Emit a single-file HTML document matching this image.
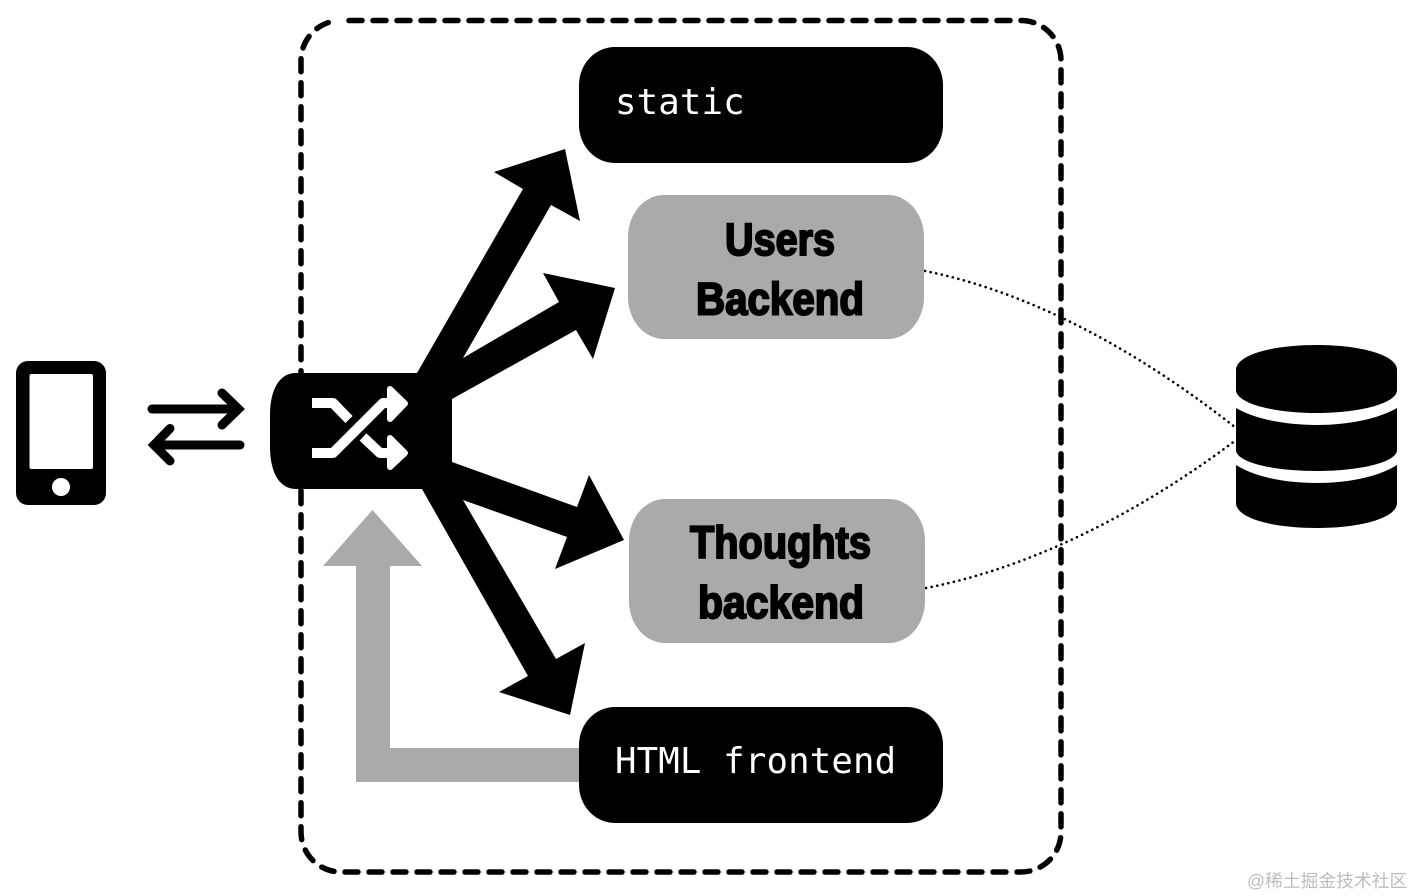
<!DOCTYPE html>
<html lang="zh">
<head>
<meta charset="utf-8">
<title>Diagram</title>
<style>
html,body{margin:0;padding:0;background:#fff;width:1414px;height:896px;overflow:hidden}
svg{display:block}
.mono{font-family:"DejaVu Sans Mono","Liberation Mono",monospace;font-size:35.7px;letter-spacing:.15px;fill:#fff}
.bold{font-family:"Liberation Sans",sans-serif;font-weight:bold;font-size:45px;fill:#000;stroke:#000;stroke-width:2px}
.wm{font-family:"Liberation Sans","Noto Sans CJK SC",sans-serif;font-size:17.800px;fill:#bdbdbd}
</style>
</head>
<body>
<svg width="1414" height="896" viewBox="0 0 1414 896" xmlns="http://www.w3.org/2000/svg">
  <rect width="1414" height="896" fill="#fff"/>

  <!-- dashed container -->
  <path d="M349 20.500 H1021 A40 40 0 0 1 1061 60.500 V832 A40 40 0 0 1 1021 872 H341 A40 40 0 0 1 301 832 V60.500 A40 40 0 0 1 332.760 21.360" fill="none" stroke="#000" stroke-width="5.500" stroke-linecap="round" stroke-dasharray="13 11"/>

  <!-- dotted links -->
  <path d="M925 271 C1040 294 1150 360 1236 428" fill="none" stroke="#000" stroke-width="2.600" stroke-linecap="round" stroke-dasharray="0.1 5.600"/>
  <path d="M926 588 C1040 566 1150 505 1236 440" fill="none" stroke="#000" stroke-width="2.600" stroke-linecap="round" stroke-dasharray="0.1 5.600"/>

  <!-- service boxes -->
  <rect x="579" y="47" width="364" height="116" rx="36" ry="38" fill="#000"/>
  <rect x="628" y="195" width="296" height="144" rx="36" ry="42" fill="#aaa"/>
  <rect x="629" y="499" width="296" height="144" rx="36" ry="42" fill="#aaa"/>
  <rect x="579" y="707" width="364" height="116" rx="36" ry="38" fill="#000"/>

  <text class="mono" x="615" y="114">static</text>
  <text class="mono" x="615" y="773">HTML frontend</text>

  <text class="bold" x="725" y="255" textLength="110" lengthAdjust="spacingAndGlyphs">Users</text>
  <text class="bold" x="696" y="314.500" textLength="168" lengthAdjust="spacingAndGlyphs">Backend</text>
  <text class="bold" x="690" y="558" textLength="181" lengthAdjust="spacingAndGlyphs">Thoughts</text>
  <text class="bold" x="698" y="618" textLength="166" lengthAdjust="spacingAndGlyphs">backend</text>

  <!-- grey return arrow -->
  <polygon points="579,748 390,748 390,566 422,566 372.500,510 323,566 356,566 356,782 579,782" fill="#aaa"/>

  <!-- black arrows -->
  <polygon fill="#000" points="417,373 523,189 494,172 565,149 580,221 551,205 463,358 559,302 543,273 615,288 593,359 576,330 452,399 440,430 452,462 577,507 589,475 624,540 555,569 567,537 463,500 556,659 585,643 570,715 499,692 528,676 422,489"/>

  <!-- load balancer -->
  <path d="M452 373 L296 373 C278 373 270 392 270 415 L270 447 C270 470 278 489 296 489 L452 489 Z" fill="#000"/>
  <g fill="none" stroke="#fff" stroke-width="10" stroke-linejoin="round">
    <path d="M312 403 L333 403 L349 419.500"/>
    <path d="M312 453 L333 453 L383 403 L392 403"/>
    <path d="M363 437 L380 453 L392 453"/>
  </g>
  <g fill="#fff" stroke="#fff" stroke-width="6" stroke-linejoin="round">
    <polygon points="390,389 405,403.500 390,419"/>
    <polygon points="390,438 405,453 390,467"/>
  </g>

  <!-- phone -->
  <rect x="16" y="361" width="90" height="144" rx="12" fill="#000"/>
  <rect x="29.500" y="374" width="63.500" height="95" rx="2" fill="#fff"/>
  <circle cx="61" cy="487" r="9" fill="#fff"/>

  <!-- bidirectional arrows -->
  <g fill="none" stroke="#000" stroke-width="9" stroke-linecap="round" stroke-linejoin="miter">
    <path d="M152 409 L238 409"/>
    <path d="M222 393 L238.500 409 L222 425"/>
    <path d="M240 445 L155 445"/>
    <path d="M170 428.500 L154 445 L170 461"/>
  </g>

  <!-- database -->
  <path d="M1236 370 C1236 355 1272 345 1316.500 345 C1361 345 1397 355 1397 370 L1397 390 C1397 403 1361 413 1316.500 413 C1272 413 1236 403 1236 390 Z" fill="#000"/>
  <path d="M1236 408 C1255 419 1285 425 1316.500 425 C1348 425 1378 419 1397 408 L1397 450 C1397 462 1361 471 1316.500 471 C1272 471 1236 462 1236 450 Z" fill="#000"/>
  <path d="M1236 465 C1255 477 1285 483 1316.500 483 C1348 483 1378 477 1397 465 L1397 503 C1397 518 1361 528 1316.500 528 C1272 528 1236 518 1236 503 Z" fill="#000"/>

  <!-- watermark -->
  <text class="wm" x="1247" y="887">@稀土掘金技术社区</text>
</svg>
</body>
</html>
